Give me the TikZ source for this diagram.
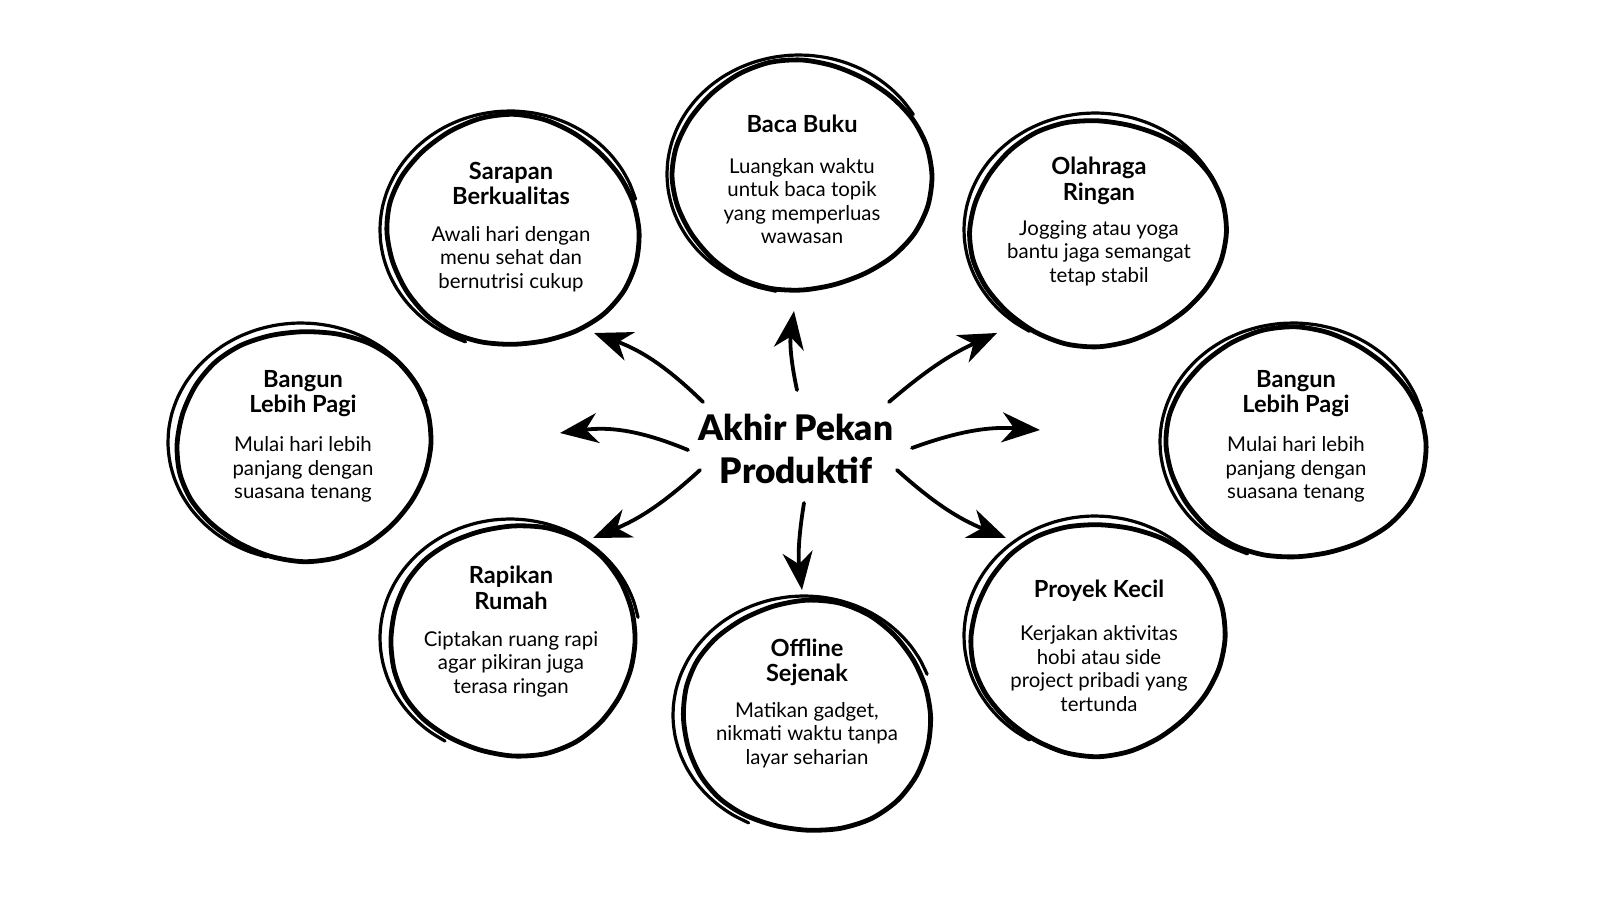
\documentclass[tikz,border=0pt]{standalone}
\usepackage{fontspec}
\setmainfont{Lato}
\newfontfamily\heavyfont{Lato Black}
\usetikzlibrary{arrows.meta}
\tikzset{
 ring/.style={line width=2.4pt, line join=round},
 ring2/.style={line width=1.6pt, line cap=round},
 conn/.style={line width=1.9pt, line cap=round, -{Stealth[length=19pt,width=15pt,inset=6pt]}},
 ttl/.style={font=\bfseries\fontsize{11.8}{12.8}\selectfont, align=center, inner sep=0pt},
 bdy/.style={font=\fontsize{10.2}{11.75}\selectfont, align=center, inner sep=0pt},
 hub/.style={font=\heavyfont\fontsize{17.6}{21.5}\selectfont, align=center, inner sep=0pt},
}
% cx cy rx ry phase start end
\newcommand{\sketchring}[7]{%
 \draw[ring] plot[smooth cycle, domain=0:345, samples=24, variable=\t]
   ({#1+#3*(1+0.025*sin(2*\t+#5))*cos(\t)}, {#2+#4*(1+0.025*sin(3*\t+#5))*sin(\t)});
 \draw[ring2] plot[smooth, domain=#6:#7, samples=30, variable=\t]
   ({#1-3+(#3+5)*cos(\t)}, {#2-2+(#4+4)*sin(\t)});
}
\begin{document}
\begin{tikzpicture}[x=0.5pt,y=-0.5pt]
\useasboundingbox (0,0) rectangle (1600,900);
\fill[white] (0,0) rectangle (1600,900);

% rings
\sketchring{513}{232}{125}{115}{20}{110}{345}
\sketchring{802}{176}{127}{115}{70}{100}{330}
\sketchring{1098}{232}{126}{113}{130}{120}{350}
\sketchring{304}{444}{128}{115}{200}{105}{340}
\sketchring{1296}{444}{128}{115}{40}{110}{345}
\sketchring{513}{640}{125}{115}{250}{120}{350}
\sketchring{807}{717}{126}{115}{310}{115}{340}
\sketchring{1098}{638}{126}{116}{160}{120}{345}

% hub
\node[hub] (hub) at (796,449) {Akhir Pekan\\Produktif};

% texts
\node[ttl] (t1) at (511,183.5) {Sarapan\\Berkualitas};
\node[bdy] (b1) at (511,259) {Awali hari dengan\\menu sehat dan\\bernutrisi cukup};
\node[ttl] (t2) at (802,124) {Baca Buku};
\node[bdy] (b2) at (802,201) {Luangkan waktu\\untuk baca topik\\yang memperluas\\wawasan};
\node[ttl] (t3) at (1099,181) {Olahraga\\Ringan};
\node[bdy] (b3) at (1099,253) {Jogging atau yoga\\bantu jaga semangat\\tetap stabil};
\node[ttl] (t4) at (303,393.5) {Bangun\\Lebih Pagi};
\node[bdy] (b4) at (303,469.5) {Mulai hari lebih\\panjang dengan\\suasana tenang};
\node[ttl] (t5) at (1296,393.5) {Bangun\\Lebih Pagi};
\node[bdy] (b5) at (1296,469.5) {Mulai hari lebih\\panjang dengan\\suasana tenang};
\node[ttl] (t6) at (511,588) {Rapikan\\Rumah};
\node[bdy] (b6) at (511,664) {Ciptakan ruang rapi\\agar pikiran juga\\terasa ringan};
\node[ttl] (t7) at (807,662.5) {Offline\\Sejenak};
\node[bdy] (b7) at (807,735) {Matikan gadget,\\nikmati waktu tanpa\\layar seharian};
\node[ttl] (t8) at (1099,591) {Proyek Kecil};
\node[bdy] (b8) at (1099,668.5) {Kerjakan aktivitas\\hobi atau side\\project pribadi yang\\tertunda};

% connector ends
\coordinate (s1) at (703,402); \coordinate (e1) at (594,333);
\coordinate (s2) at (797,390); \coordinate (e2) at (794,311);
\coordinate (s3) at (889,402); \coordinate (e3) at (997,333);
\coordinate (s4) at (688,450); \coordinate (e4) at (560,433);
\coordinate (s5) at (912,448); \coordinate (e5) at (1040,430);
\coordinate (s6) at (700,470); \coordinate (e6) at (593,538);
\coordinate (s7) at (804,503); \coordinate (e7) at (802,590);
\coordinate (s8) at (897,470); \coordinate (e8) at (1006,538);

\draw[conn] (s1) to[bend right=12] (e1);
\draw[conn] (s2) to[bend left=10] (e2);
\draw[conn] (s3) to[bend left=8] (e3);
\draw[conn] (s4) to[bend right=15] (e4);
\draw[conn] (s5) to[bend left=12] (e5);
\draw[conn] (s6) to[bend left=10] (e6);
\draw[conn] (s7) to[bend right=8] (e7);
\draw[conn] (s8) to[bend right=10] (e8);
\end{tikzpicture}
\end{document}
